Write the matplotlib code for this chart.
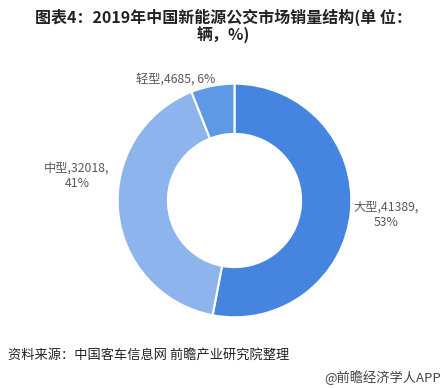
import matplotlib.pyplot as plt

plt.rcParams['font.family'] = ['Noto Sans CJK SC', 'DejaVu Sans']

# data
categories = ['大型', '中型', '轻型']
sales = [41389, 32018, 4685]
shares = [53, 41, 6]
colors = ['#4585e0', '#8db4ec', '#5f98e4']

fig = plt.figure(figsize=(4.46, 3.88), dpi=100)

# donut in its own axes
pax = fig.add_axes([(234.5 - 118) / 446, 1 - (200.5 + 118) / 388, 236 / 446, 236 / 388])
pax.pie(sales, colors=colors, startangle=90, counterclock=False,
        wedgeprops=dict(width=0.43, edgecolor='white', linewidth=1.5))
pax.set_xlim(-1.01, 1.01)
pax.set_ylim(-1.01, 1.01)
pax.set_aspect('equal')

# overlay axes for text, in pixel coords
ax = fig.add_axes([0.0, 0.0, 1.0, 1.0])
ax.set_xlim(0, 446)
ax.set_ylim(388, 0)
ax.axis('off')
ax.patch.set_alpha(0)

# labels
lab_pos = [(386, 215), (77, 176), (176, 80)]
for cat, v, s, (x, y) in zip(categories, sales, shares, lab_pos):
    if cat == '轻型':
        txt = f'{cat},{v}, {s}%'
    else:
        txt = f'{cat},{v},\n{s}%'
    ax.text(x, y, txt, ha='center', va='center', fontsize=8.8, color='#595959',
            linespacing=1.25)

ax.text(223, 26, '图表4：2019年中国新能源公交市场销量结构(单 位：\n辆，%)',
        ha='center', va='center', fontsize=11.5, fontweight='bold', color='#222222',
        linespacing=1.05)
ax.text(8, 355, '资料来源：中国客车信息网 前瞻产业研究院整理', ha='left', va='center',
        fontsize=9.5, color='#222222')
ax.text(441, 378, '@前瞻经济学人APP', ha='right', va='center', fontsize=9.5,
        color='#444444')

fig.savefig('out.png', dpi=100)
